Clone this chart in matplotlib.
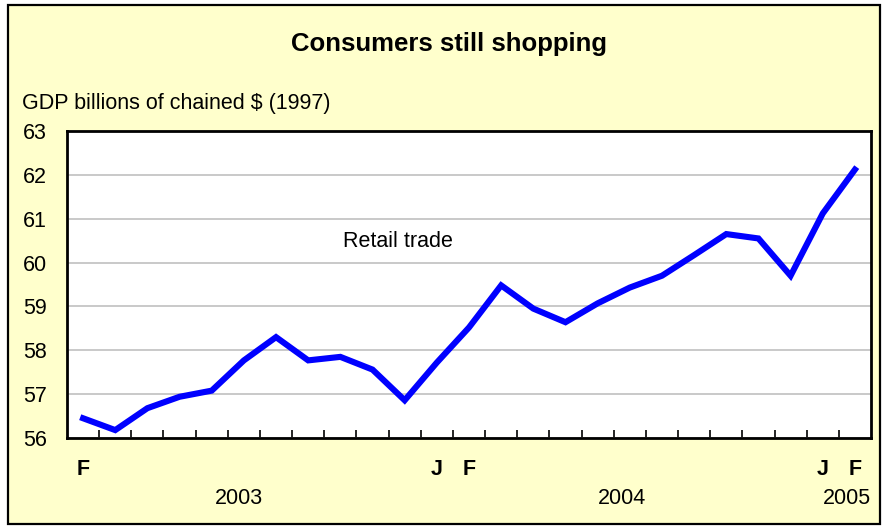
import numpy as np
import matplotlib.pyplot as plt
from matplotlib.patches import Rectangle
import matplotlib.transforms as mtransforms

plt.rcParams['font.family'] = ['Liberation Sans', 'DejaVu Sans']

# ---------------------------
# Data (monthly, Feb 2003 - Feb 2005)
# ---------------------------
months = ["F", "M", "A", "M", "J", "J", "A", "S", "O", "N", "D",
          "J", "F", "M", "A", "M", "J", "J", "A", "S", "O", "N", "D",
          "J", "F"]
retail = [56.45, 56.18, 56.68, 56.94, 57.08, 57.77, 58.30, 57.77, 57.85,
          57.56, 56.86, 57.72, 58.52, 59.48, 58.95, 58.64, 59.07, 59.43,
          59.70, 60.17, 60.65, 60.55, 59.70, 61.12, 62.12]
shown_months = [0, 11, 12, 23, 24]
years = ["2003", "2004", "2005"]
year_pos = [4.85, 16.75, 23.75]

x = np.arange(len(retail))

# ---------------------------
# Figure
# ---------------------------
fig = plt.figure(figsize=(8.84, 5.29), dpi=100)
fig.patch.set_facecolor("white")
fig.patches.append(Rectangle((8 / 884, 5 / 529), 872 / 884, 519 / 529,
                             transform=fig.transFigure, facecolor="#FFFFCC",
                             edgecolor="black", linewidth=1.6, zorder=-10))

ax = fig.add_axes([67 / 884, 91 / 529, 804 / 884, 307 / 529])
ax.set_facecolor("white")
ax.plot(x, retail, color="#0000FF", linewidth=4.4, solid_joinstyle="miter")

ax.set_xlim(-0.5, len(retail) - 0.5)
ax.set_ylim(56, 63)
ax.set_yticks(range(56, 64))
ax.yaxis.grid(True, color="#C0C0C0", linewidth=1.2)
ax.set_axisbelow(True)
ax.tick_params(axis="y", length=0, labelsize=15.5, pad=14.5)

ax.set_xticks(shown_months)
ax.set_xticklabels([months[i] for i in shown_months], fontweight="bold",
                   fontsize=15.5)
ax.set_xticks(np.arange(0.5, len(retail) - 1), minor=True)
ax.tick_params(axis="x", which="major", length=0, pad=15)
ax.tick_params(axis="x", which="minor", direction="in", length=6,
               width=1.2)

for s in ax.spines.values():
    s.set_linewidth(2)
    s.set_color("black")

trans = mtransforms.blended_transform_factory(ax.transData, fig.transFigure)
for yr, p in zip(years, year_pos):
    ax.text(p, 1 - 499 / 529, yr, transform=trans, ha="center",
            va="center", fontsize=15.5)

ax.text(9.8, 60.48, "Retail trade", ha="center", va="center", fontsize=15.5)

fig.text(449 / 884, 1 - 44 / 529, "Consumers still shopping",
         ha="center", va="center", fontsize=18.5, fontweight="bold")
fig.text(22 / 884, 1 - 103 / 529, "GDP billions of chained $ (1997)",
         ha="left", va="center", fontsize=15.5)

fig.savefig("out.png", dpi=100, facecolor=fig.get_facecolor())
